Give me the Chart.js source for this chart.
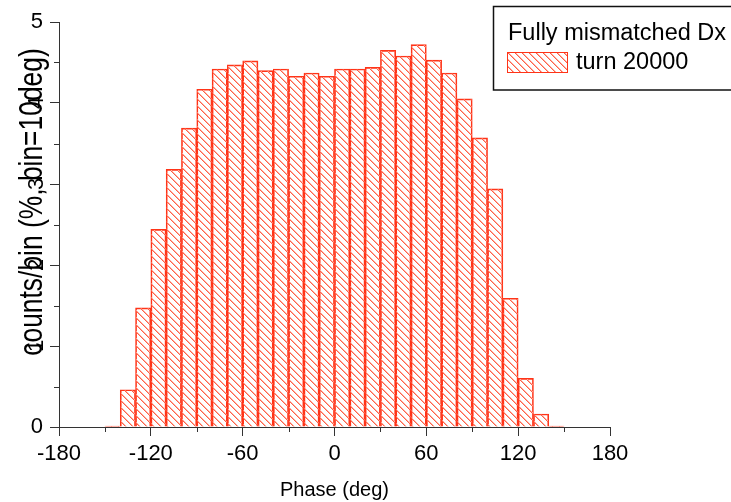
<!DOCTYPE html>
<html>
<head>
<meta charset="utf-8">
<script src="https://cdn.jsdelivr.net/npm/chart.js@4.4.0/dist/chart.umd.min.js"></script>
<style>
  html, body { margin: 0; padding: 0; background: #fff; }
  #wrap { width: 731px; height: 502px; }
</style>
</head>
<body>
<div id="wrap"><canvas id="histChart" width="731" height="502"></canvas></div>
<script>
// histogram bins, 10 deg wide
var binCenters = [-145, -135, -125, -115, -105, -95, -85, -75, -65, -55,
                  -45, -35, -25, -15, -5, 5, 15, 25, 35, 45,
                  55, 65, 75, 85, 95, 105, 115, 125, 135, 145];
var percentPerBin = [0.01, 0.46, 1.47, 2.44, 3.18, 3.69, 4.17, 4.42, 4.47, 4.52,
                     4.40, 4.42, 4.33, 4.37, 4.33, 4.42, 4.42, 4.44, 4.65, 4.58,
                     4.72, 4.53, 4.37, 4.05, 3.57, 2.94, 1.59, 0.60, 0.16, 0.01];
var xTicks = [-180, -120, -60, 0, 60, 120, 180];
var xMinorTicks = [-150, -90, -30, 30, 90, 150];
var yTicks = [0, 1, 2, 3, 4, 5];
var yMinorTicks = [0.5, 1.5, 2.5, 3.5, 4.5];
var yUprightLabels = [0, 5];
var seriesLabel = 'turn 20000';
var legendTitle = 'Fully mismatched Dx';
var xTitle = 'Phase (deg)';
var yTitle = 'counts/bin (%, bin=10deg)';

Chart.defaults.font.family = '"Liberation Sans", Arial, sans-serif';
Chart.defaults.color = '#000';

// "\\\" hatching, drawn pixel by pixel so it stays crisp
function makeHatch() {
  var s = 7;
  var c = document.createElement('canvas');
  c.width = s; c.height = s;
  var g = c.getContext('2d');
  for (var i = 0; i < s; i++) {
    g.fillStyle = '#ff6048';
    g.fillRect(i, i, 1, 1);
    g.fillStyle = '#ffb2a4';
    g.fillRect((i + 1) % s, i, 1, 1);
  }
  return g.createPattern(c, 'repeat');
}
var hatch = makeHatch();
var barRed = '#ff3418';

// minor ticks, rotated y labels, y title and the boxed legend
var extrasPlugin = {
  id: 'extras',
  afterDraw: function (chart) {
    var ctx = chart.ctx;
    var xs = chart.scales.x, ys = chart.scales.y;
    var area = chart.chartArea;
    ctx.save();
    ctx.strokeStyle = '#333';
    ctx.lineWidth = 1;
    ctx.beginPath();
    xMinorTicks.forEach(function (v) {
      var px = Math.round(xs.getPixelForValue(v)) + 0.5;
      ctx.moveTo(px, area.bottom);
      ctx.lineTo(px, area.bottom + 5);
    });
    yMinorTicks.forEach(function (v) {
      var py = Math.round(ys.getPixelForValue(v)) + 0.5;
      ctx.moveTo(area.left - 5, py);
      ctx.lineTo(area.left, py);
    });
    ctx.stroke();

    ctx.fillStyle = '#000';
    ctx.textAlign = 'center';
    ctx.textBaseline = 'middle';
    ctx.font = '22px "Liberation Sans", Arial, sans-serif';
    yTicks.forEach(function (v) {
      if (yUprightLabels.indexOf(v) >= 0) return;
      ctx.save();
      ctx.translate(37, ys.getPixelForValue(v));
      ctx.rotate(-Math.PI / 2);
      ctx.fillText(String(v), 0, 0);
      ctx.restore();
    });

    // the original title is tall and narrow
    ctx.save();
    ctx.translate(33, 202);
    ctx.rotate(-Math.PI / 2);
    ctx.scale(0.8, 1);
    ctx.font = '33px "Liberation Sans", Arial, sans-serif';
    ctx.fillText(yTitle, 0, 0);
    ctx.restore();

    // legend
    ctx.strokeStyle = '#111';
    ctx.lineWidth = 1.5;
    ctx.strokeRect(493.5, 6.5, 260, 83.5);
    ctx.textAlign = 'left';
    ctx.textBaseline = 'alphabetic';
    ctx.font = '23.5px "Liberation Sans", Arial, sans-serif';
    ctx.fillText(legendTitle, 508, 40);
    ctx.fillStyle = hatch;
    ctx.fillRect(507, 52, 61, 20);
    ctx.strokeStyle = barRed;
    ctx.lineWidth = 1;
    ctx.strokeRect(507.5, 52.5, 60, 20);
    ctx.fillStyle = '#000';
    ctx.fillText(chart.data.datasets[0].label, 576, 69);
    ctx.restore();
  }
};

new Chart(document.getElementById('histChart'), {
  type: 'bar',
  data: {
    datasets: [{
      label: seriesLabel,
      data: binCenters.map(function (x, i) { return { x: x, y: percentPerBin[i] }; }),
      backgroundColor: hatch,
      borderColor: barRed,
      borderWidth: 1,
      barPercentage: 1,
      categoryPercentage: 1
    }]
  },
  options: {
    responsive: false,
    animation: false,
    layout: { padding: { top: 22, right: 121, left: 0, bottom: 0 } },
    plugins: {
      legend: { display: false },
      tooltip: { enabled: false }
    },
    scales: {
      x: {
        type: 'linear',
        min: -180,
        max: 180,
        offset: false,
        afterBuildTicks: function (s) { s.ticks = xTicks.map(function (v) { return { value: v }; }); },
        afterFit: function (s) { s.height = 75; },
        grid: { offset: false, drawOnChartArea: false, tickLength: 9, color: '#333' },
        border: { color: '#333', width: 1 },
        ticks: { font: { size: 22 }, padding: 5, maxRotation: 0 },
        title: { display: true, text: xTitle, font: { size: 20 }, padding: { top: 0, bottom: 0 } }
      },
      y: {
        min: 0,
        max: 5,
        afterBuildTicks: function (s) { s.ticks = yTicks.map(function (v) { return { value: v }; }); },
        afterFit: function (s) { s.width = 59; },
        grid: { drawOnChartArea: false, tickLength: 9, color: '#333' },
        border: { color: '#333', width: 1 },
        ticks: {
          font: { size: 22 },
          padding: 7,
          callback: function (v) { return yUprightLabels.indexOf(v) >= 0 ? v : ''; }
        }
      }
    }
  },
  plugins: [extrasPlugin]
});
</script>
</body>
</html>
